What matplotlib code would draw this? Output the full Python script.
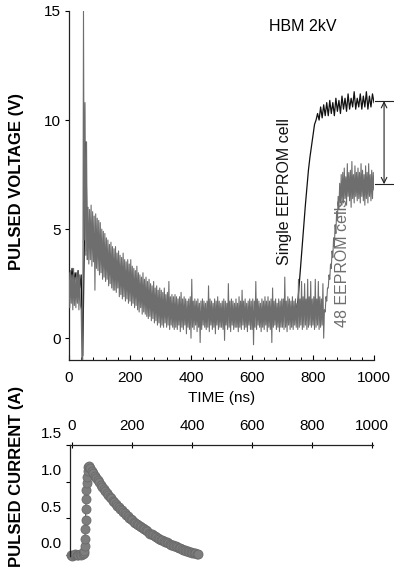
import numpy as np
import matplotlib
matplotlib.use('Agg')
import matplotlib.pyplot as plt
from matplotlib.ticker import MultipleLocator
from matplotlib.transforms import ScaledTranslation

plt.rcParams['font.family'] = ['Liberation Sans', 'DejaVu Sans']

# 48 EEPROM cells (gray trace), V, one sample every 2.5 ns from t = 0
v_48cells = [
    3.0, 1.4, 3.1, 1.6, 2.9, 1.3, 3.2, 1.5, 2.8, 1.4, 3.0, 1.6, 3.1, 1.3, 2.9, 1.5, 1.3, -1.2, -1.2, 15.0,
    4.5, 10.8, 3.8, 9.0, 3.6, 6.0, 3.4, 5.9, 3.6, 6.1, 3.3, 5.8, 3.5, 5.6, 2.2, 5.7, 3.2, 5.5, 3.1, 5.4,
    2.9, 5.3, 3.0, 5.0, 2.7, 4.9, 2.8, 4.8, 2.6, 4.6, 2.7, 4.5, 2.4, 4.3, 2.5, 4.4, 2.3, 4.2, 2.2, 4.1,
    2.2, 4.2, 2.1, 3.9, 2.3, 4.0, 1.9, 3.8, 2.0, 3.7, 1.8, 3.9, 1.9, 3.6, 1.7, 3.5, 1.8, 3.6, 1.6, 3.4,
    1.7, 3.6, 1.5, 3.3, 1.6, 3.2, 1.4, 3.1, 1.5, 3.3, 1.3, 3.0, 1.2, 2.9, 1.4, 2.8, 1.1, 3.0, 1.2, 2.7,
    1.1, 2.8, 1.0, 2.6, 0.9, 2.7, 1.0, 2.5, 0.8, 2.4, 0.9, 2.6, 0.7, 2.3, 0.8, 2.4, 0.6, 2.2, 0.7, 2.3,
    0.5, 2.2, 0.6, 2.1, 0.5, 2.3, 0.7, 2.0, 0.5, 2.1, 0.6, 2.6, 0.4, 1.9, 0.6, 2.0, 0.5, 1.9, 0.4, 2.0,
    0.5, 1.9, 0.4, 1.8, 0.6, 1.9, 0.3, 2.1, 0.5, 1.8, 0.4, 1.9, 0.6, 1.8, 0.2, 1.7, 0.5, 1.8, 0.4, 1.9,
    0.0, 2.7, 0.5, 1.7, 0.4, 1.8, 0.6, 1.7, 0.3, 1.8, 0.5, 1.6, -0.2, 1.7, 0.4, 1.8, 0.6, 1.7, 0.5, 1.6,
    0.4, 1.7, 0.5, 2.4, 0.3, 1.8, 0.6, 1.7, 0.4, 1.6, 0.5, 1.8, 0.2, 1.7, 0.6, 1.9, 0.4, 1.7, 0.5, 1.6,
    0.5, 1.7, 0.4, 1.8, -0.1, 1.7, 0.6, 1.6, 0.4, 2.5, 0.5, 1.7, 0.3, 1.8, 0.6, 1.7, 0.4, 1.6, 0.5, 1.8,
    0.5, 1.6, 0.3, 1.9, 0.5, 1.7, 0.4, 2.2, 0.6, 1.7, 0.4, 1.8, 0.5, 1.6, 0.3, 1.7, 0.6, 1.8, 0.4, 1.7,
    0.4, 1.8, -0.3, 1.7, 0.5, 2.6, 0.4, 1.8, 0.6, 1.7, 0.5, 1.6, 0.3, 1.8, 0.5, 1.7, 0.4, 1.9, 0.6, 1.7,
    0.3, 1.9, 0.5, 1.7, 0.4, 1.8, -0.2, 2.3, 0.5, 1.7, 0.6, 1.8, 0.4, 1.6, 0.5, 1.8, 0.3, 1.7, 0.5, 1.8,
    0.5, 1.8, 0.4, 2.8, 0.5, 1.7, 0.3, 1.9, 0.6, 1.8, 0.4, 1.7, 0.5, 1.9, 0.4, 1.7, 0.6, 1.8, 0.5, 1.6,
    0.4, 2.7, 0.5, 1.8, 0.6, 2.6, 0.4, 1.9, 0.5, 2.5, 0.6, 1.8, 0.4, 2.7, 0.5, 1.9, 0.6, 2.6, 0.5, 1.8,
    0.6, 1.9, 0.4, 2.7, 0.5, 1.8, 0.6, 2.6, 0.4, 1.9, 0.5, 1.8, 0.6, 2.5, 0.0, 1.3, 1.2, 1.9, 1.7, 2.3,
    2.3, 2.9, 2.7, 3.4, 3.2, 4.0, 3.7, 4.6, 4.2, 5.2, 4.8, 5.8, 5.4, 6.5, 5.9, 7.1, 6.2, 7.5, 6.1, 7.6,
    6.2, 7.8, 6.4, 7.4, 6.1, 8.0, 6.5, 7.6, 6.3, 7.7, 6.0, 8.1, 6.4, 7.5, 6.2, 7.9, 6.5, 7.6, 6.3, 7.8,
    6.4, 7.6, 6.2, 8.0, 6.5, 7.7, 6.3, 7.5, 6.1, 7.9, 6.4, 7.6, 6.2, 8.0, 6.5, 7.5, 6.3, 7.7, 6.4, 7.6,
    6.8]

# single EEPROM cell (black trace), V, one sample every 5 ns from t = 0
v_single = [
    3.1, 2.5, 3.2, 2.4, 3.0, 2.6, 3.1, 2.3, 2.9, -0.8,
    4.0, 9.0, 4.0, 5.2, 4.4, 5.0, 4.0, 4.8, 3.9, 4.5,
    3.8, 4.4, 3.6, 4.1, 3.4, 3.9, 3.3, 3.7, 3.1, 3.5,
    2.9, 3.3, 2.8, 3.1, 2.6, 3.0, 2.5, 2.8, 2.4, 2.7,
    2.3, 2.6, 2.1, 2.4, 2.0, 2.3, 1.9, 2.1, 1.8, 2.0,
    1.7, 1.9, 1.6, 1.8, 1.5, 1.7, 1.4, 1.6, 1.4, 1.5,
    1.3, 1.5, 1.2, 1.4, 1.2, 1.3, 1.1, 1.3, 1.1, 1.2,
    1.0, 1.3, 1.1, 1.2, 1.0, 1.3, 1.1, 1.2, 1.0, 1.3,
    1.1, 1.2, 1.0, 1.3, 1.1, 1.2, 1.0, 1.3, 1.1, 1.2,
    1.0, 1.3, 1.1, 1.2, 1.0, 1.3, 1.1, 1.2, 1.0, 1.3,
    1.1, 1.2, 1.0, 1.3, 1.1, 1.2, 1.0, 1.3, 1.1, 1.2,
    1.0, 1.3, 1.1, 1.2, 1.0, 1.3, 1.1, 1.2, 1.0, 1.3,
    1.1, 1.2, 1.0, 1.3, 1.1, 1.2, 1.0, 1.3, 1.1, 1.2,
    1.0, 1.3, 1.1, 1.2, 1.0, 1.3, 1.1, 1.2, 1.0, 1.3,
    1.1, 1.2, 1.0, 1.3, 1.1, 1.2, 1.0, 1.3, 1.1, 1.4,
    1.6, 2.5, 3.4, 4.3, 5.2, 6.1, 6.9, 7.7, 8.3, 8.8,
    9.3, 9.8, 10.0, 10.3, 10.0, 10.6, 10.1, 10.7, 10.2, 10.8,
    10.2, 10.9, 10.3, 10.8, 10.2, 11.0, 10.4, 10.9, 10.3, 11.1,
    10.5, 11.0, 10.4, 11.2, 10.5, 11.0, 10.6, 11.3, 10.5, 11.0,
    10.6, 11.2, 10.5, 11.1, 10.6, 11.3, 10.5, 11.1, 10.6, 11.2,
    10.8]

# HBM pulse current
t_cur = [-5, 0, 5, 10, 15, 20, 25, 30, 35, 40, 41, 42, 43, 44, 45, 46, 47, 48,
         49, 50, 52, 54,
         55, 60, 65, 70, 75, 80, 85, 90, 95, 100, 105, 110, 115, 120, 125,
         130, 135, 140, 145, 150, 155, 160, 165, 170, 175, 180, 185, 190, 195,
         200, 205, 210, 215, 220, 225, 230, 235, 240, 245, 250, 255, 260, 265,
         270, 275, 280, 285, 290, 295, 300, 305, 310, 315, 320, 325, 330, 335,
         340, 345, 350, 355, 360, 365, 370, 375, 380, 385, 390, 395, 400, 405,
         410, 415, 420]
i_cur = [0.0, -0.01, 0.0, 0.01, 0.0, 0.0, 0.01, 0.0, 0.01, 0.02, 0.05, 0.12,
         0.22, 0.35, 0.48, 0.62, 0.76, 0.88, 0.98, 1.06, 1.14, 1.20,
         1.22, 1.19, 1.15, 1.12, 1.08, 1.05, 1.02, 0.99, 0.96, 0.93, 0.90,
         0.87, 0.84, 0.82, 0.79, 0.77, 0.74, 0.72, 0.69, 0.67, 0.65, 0.63,
         0.61, 0.59, 0.57, 0.55, 0.53, 0.51, 0.49, 0.47, 0.455, 0.44, 0.425,
         0.41, 0.395, 0.38, 0.365, 0.35, 0.335, 0.32, 0.305, 0.29, 0.28,
         0.27, 0.255, 0.24, 0.23, 0.22, 0.21, 0.20, 0.19, 0.18, 0.17, 0.16,
         0.15, 0.14, 0.13, 0.12, 0.115, 0.11, 0.10, 0.09, 0.08, 0.07, 0.065,
         0.06, 0.05, 0.04, 0.035, 0.03, 0.025, 0.02, 0.015, 0.01]

# voltage step between the two plateaus
v_top, v_bot = 10.87, 7.06

t_48 = 2.5 * np.arange(len(v_48cells))
t_single = 5.0 * np.arange(len(v_single))

gray = '#6e6e6e'
fig = plt.figure(figsize=(3.94, 5.82), dpi=100)

# ---- top panel: pulsed voltage
ax1 = fig.add_axes([69/394, 222/582, 305/394, 349/582])
ax1.plot(t_single, v_single, color='#111111', lw=0.9, zorder=2)
ax1.plot(t_48, v_48cells, color=gray, lw=0.8, zorder=3)
ax1.set_xlim(0, 1000)
ax1.set_ylim(-1, 15)
for s in ['top', 'right']:
    ax1.spines[s].set_visible(False)
for s in ['left', 'bottom']:
    ax1.spines[s].set_linewidth(0.9)
    ax1.spines[s].set_color('#222222')
ax1.set_yticks([0, 5, 10, 15])
ax1.set_xticks([0, 200, 400, 600, 800, 1000])
ax1.xaxis.set_minor_locator(MultipleLocator(40))
ax1.tick_params(axis='x', which='major', direction='in', length=3.5, width=0.8,
                pad=8, labelsize=11)
ax1.tick_params(axis='x', which='minor', direction='in', length=2.5, width=0.7)
ax1.tick_params(axis='y', direction='out', length=3, width=0.8, pad=3,
                labelsize=11)

ax1.text(766, 14.27, 'HBM 2kV', ha='center', va='center', fontsize=11.5)
ax1.text(708, 6.72, 'Single EEPROM cell', rotation=90, ha='center',
         va='center', fontsize=11.5, color='#111111', zorder=1)
ax1.text(897, 3.44, '48 EEPROM cells', rotation=90, ha='center',
         va='center', fontsize=11.5, color=gray, zorder=1)

# step marker on the right
for v in [v_top, v_bot]:
    ax1.plot([1003, 1075], [v, v], color='#222222', lw=0.8, clip_on=False)
ax1.annotate('', xy=(1033, v_bot), xytext=(1033, v_top),
             arrowprops=dict(arrowstyle='<->', color='#222222', lw=0.8,
                             shrinkA=0, shrinkB=0),
             annotation_clip=False)

fig.text(222/394, 1 - 398/582, 'TIME (ns)', ha='center', va='center',
         fontsize=11)
fig.text(17/394, 1 - 182/582, 'PULSED VOLTAGE (V)', rotation=90,
         ha='center', va='center', fontsize=12, fontweight='bold')

# ---- bottom panel: pulsed current
ax2 = fig.add_axes([70/394, 26/582, 303/394, 111/582])
ax2.plot(t_cur, i_cur, color='#555555', lw=0.8, marker='o', ms=6.5,
         mfc='#7e7e7e', mec='#6a6a6a', mew=0.6, clip_on=False)
ax2.set_xlim(-6.7, 1003)
ax2.set_ylim(-0.015, 1.5)
for s in ['bottom', 'right']:
    ax2.spines[s].set_visible(False)
for s in ['left', 'top']:
    ax2.spines[s].set_linewidth(0.9)
    ax2.spines[s].set_color('#222222')
ax2.xaxis.tick_top()
ax2.set_xticks([0, 200, 400, 600, 800, 1000])
ax2.set_yticks([0.0, 0.5, 1.0, 1.5])
ax2.set_yticklabels(['0.0', '0.5', '1.0', '1.5'])
ax2.tick_params(axis='x', direction='inout', length=5, width=0.8, pad=6,
                labelsize=11)
ax2.tick_params(axis='y', direction='out', length=3, width=0.8, pad=3,
                labelsize=11)
shift = ScaledTranslation(0, 0.12, fig.dpi_scale_trans)
for lab in ax2.get_yticklabels():
    lab.set_transform(lab.get_transform() + shift)

fig.text(17/394, 1 - 476/582, 'PULSED CURRENT (A)', rotation=90,
         ha='center', va='center', fontsize=12, fontweight='bold')

fig.savefig('out.png', dpi=100)
